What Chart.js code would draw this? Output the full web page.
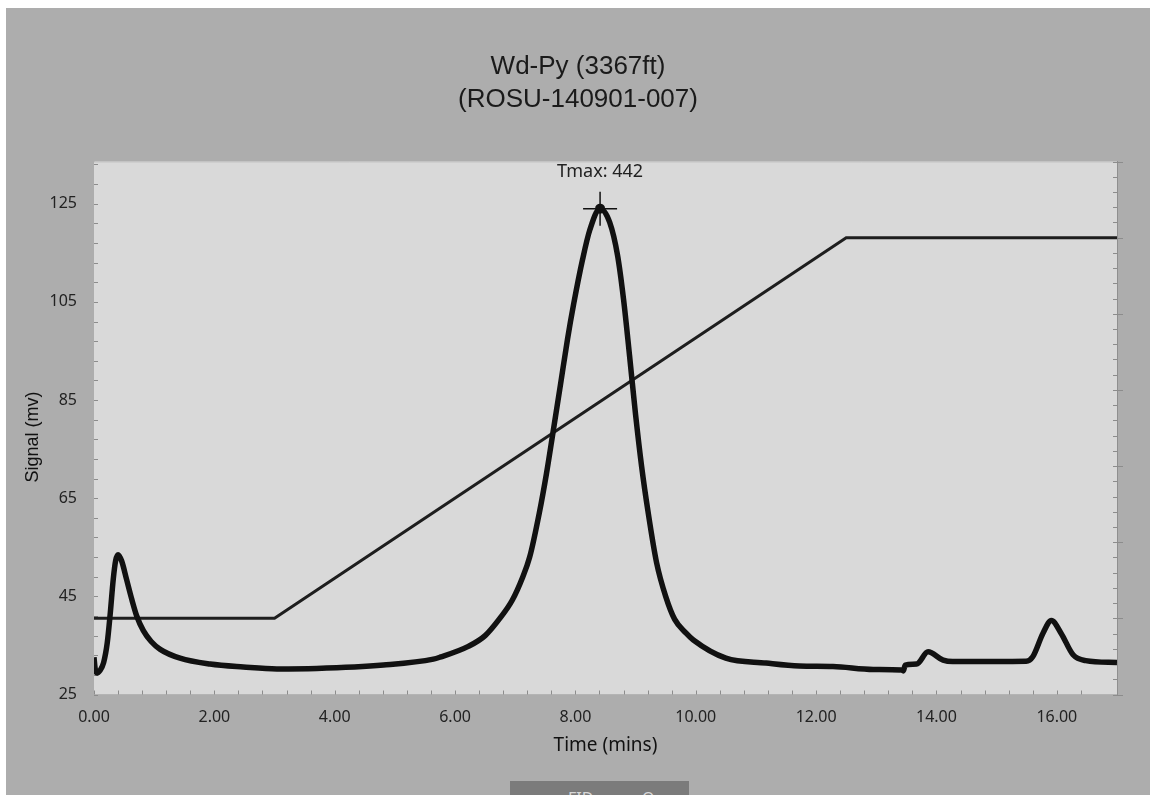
<!DOCTYPE html>
<html>
<head>
<meta charset="utf-8">
<script src="https://cdn.jsdelivr.net/npm/chart.js@4/dist/chart.umd.min.js"></script>
<style>
  html, body { margin: 0; padding: 0; background: #ffffff; overflow: hidden; }
  #frame { position: absolute; left: 6px; top: 8px; width: 1144px; height: 787px; background: #adadad; }
  #chart { position: absolute; left: 0; top: 0; }
  #tabs { position: absolute; left: 504px; top: 773px; width: 179px; height: 30px; background: #7b7b7b; overflow: hidden; }
  #tabs span { position: absolute; top: 9px; font: 16px "Noto Sans", sans-serif; line-height: 16px; color: #d8d8d8; }
</style>
</head>
<body>
<div id="frame">
  <canvas id="chart" width="1144" height="787"></canvas>
  <div id="tabs"><span style="left:58px">FID</span><span style="left:132px">Oven</span></div>
</div>
<script>
// Pyrolysis run: FID signal (mV) against time, with the oven temperature program.
const timeMin = [0.00, 0.02, 0.05, 0.10, 0.16, 0.22, 0.27, 0.32, 0.36, 0.40, 0.46, 0.54, 0.63, 0.71, 0.82, 0.95,
  1.10, 1.43, 1.93, 2.48, 3.04, 3.70, 4.81, 5.64, 5.75, 6.22, 6.50, 6.75, 6.95, 7.12, 7.24, 7.40, 7.52, 7.63,
  7.75, 7.87, 7.97, 8.12, 8.24, 8.41, 8.57, 8.70, 8.80, 8.90, 9.00, 9.10, 9.21, 9.35, 9.50, 9.65, 9.84,
  9.96, 10.50, 11.17, 11.72, 12.28, 12.95, 13.42, 13.45, 13.48, 13.67, 13.86, 14.11, 14.27, 15.49, 15.60,
  15.77, 15.91, 16.07, 16.27, 16.48, 17.00];
const signalMv = [32.6, 30.2, 29.4, 29.9, 31.5, 35.5, 41.5, 48.5, 52.3, 53.5, 52.2, 48.5, 44.3, 41.0, 38.0, 35.8,
  34.2, 32.4, 31.2, 30.6, 30.2, 30.3, 31.0, 32.2, 32.6, 34.8, 37.0, 40.6, 44.2, 48.8, 53.0, 62.0, 70.1, 78.6,
  88.0, 97.5, 104.5, 113.7, 119.7, 124.0, 121.2, 114.5, 105.5, 94.0, 82.0, 71.5, 62.0, 51.8, 45.0, 40.3, 37.5,
  36.1, 32.4, 31.4, 30.8, 30.7, 30.1, 30.0, 29.8, 31.0, 31.2, 33.7, 32.0, 31.7, 31.8, 32.7,
  37.5, 40.1, 37.5, 33.1, 31.9, 31.5];

// Oven program: isothermal hold, linear ramp, final hold
const rampTime = [0, 3, 12.5, 17];
const rampTempC = [300, 300, 550, 550];

// Tmax pick on the S2 peak
const tmaxTime = 8.41;
const tmaxSignal = 124.0;
const tmaxLabel = 'Tmax: 442';

// Axis ticks: labelled values and the minor tick spacing
const xLabelValues = [0, 2, 4, 6, 8, 10, 12, 14, 16];
const xMinorStep = 0.4;
const yLabelValues = [25, 45, 65, 85, 105, 125];
const yMinorStep = 4;
const tempMajorStep = 50;
const tempMinorStep = 10;

const titleLines = ['Wd-Py (3367ft)', '(ROSU-140901-007)'];
const xTitle = 'Time (mins)';
const yTitle = 'Signal (mv)';

const signalPoints = timeMin.map((t, i) => ({ x: t, y: signalMv[i] }));
const rampPoints = rampTime.map((t, i) => ({ x: t, y: rampTempC[i] }));

const near = (a, b) => Math.abs(a - b) < 1e-6;
const isMultiple = (v, base, step) => near((v - base) / step, Math.round((v - base) / step));

// Plot-area fill, inward tick marks on every axis, and the Tmax / y-axis captions
const frameTicks = {
  id: 'frameTicks',
  beforeDatasetsDraw(chart) {
    const { ctx, chartArea: a, scales } = chart;
    ctx.save();
    ctx.fillStyle = '#d9d9d9';
    ctx.fillRect(a.left, a.top, a.right - a.left, a.bottom - a.top);
    ctx.strokeStyle = '#c6c6c6';
    ctx.lineWidth = 1;
    ctx.beginPath();
    ctx.moveTo(a.left, a.top + 0.5); ctx.lineTo(a.right, a.top + 0.5);
    ctx.stroke();

    ctx.strokeStyle = '#8c8c8c';
    ctx.beginPath();
    scales.x.ticks.forEach(t => {
      if (!isMultiple(t.value, 0, xMinorStep)) return;
      const px = Math.round(scales.x.getPixelForValue(t.value)) + 0.5;
      ctx.moveTo(px, a.bottom); ctx.lineTo(px, a.bottom - 4);
    });
    scales.y.ticks.forEach(t => {
      const py = Math.round(scales.y.getPixelForValue(t.value)) + 0.5;
      ctx.moveTo(a.left, py); ctx.lineTo(a.left + 4, py);
    });
    scales.yTemp.ticks.forEach(t => {
      if (!isMultiple(t.value, 0, tempMinorStep)) return;
      const py = Math.round(scales.yTemp.getPixelForValue(t.value)) + 0.5;
      const outer = isMultiple(t.value, 0, tempMajorStep) ? 6 : 0;
      ctx.moveTo(a.right - 4, py); ctx.lineTo(a.right + outer, py);
    });
    ctx.stroke();
    ctx.restore();
  },
  afterDatasetsDraw(chart) {
    const { ctx, chartArea: a, scales } = chart;
    ctx.save();
    ctx.font = '18px "Noto Sans", sans-serif';
    ctx.fillStyle = '#222';
    ctx.textAlign = 'center';
    ctx.textBaseline = 'middle';
    ctx.fillText(tmaxLabel, scales.x.getPixelForValue(tmaxTime), a.top + 10);

    // vertical axis caption, read bottom to top
    ctx.font = '18px "Liberation Sans", Arial, sans-serif';
    ctx.fillStyle = '#111';
    ctx.translate(scales.y.left + 27, (a.top + a.bottom) / 2 + 9);
    ctx.rotate(-Math.PI / 2);
    ctx.fillText(yTitle, 0, 0);
    ctx.restore();
  }
};

const tickFont = { family: '"Noto Sans", sans-serif', size: 16 };
const axisBorder = { display: true, color: '#8f8f8f', width: 1 };
const noGrid = { display: true, drawOnChartArea: false, drawTicks: false };

new Chart(document.getElementById('chart'), {
  type: 'line',
  data: {
    datasets: [
      {
        label: 'Tmax cross',
        type: 'scatter',
        data: [{ x: tmaxTime, y: tmaxSignal }],
        yAxisID: 'y',
        pointStyle: 'cross',
        pointRadius: 17,
        borderColor: '#111',
        borderWidth: 1.5,
        order: 0
      },
      {
        label: 'Tmax dot',
        type: 'scatter',
        data: [{ x: tmaxTime, y: tmaxSignal }],
        yAxisID: 'y',
        pointStyle: 'circle',
        pointRadius: 5,
        backgroundColor: '#111',
        borderWidth: 0,
        order: 0
      },
      {
        label: 'Signal',
        data: signalPoints,
        yAxisID: 'y',
        borderColor: '#111111',
        borderWidth: 5.5,
        pointRadius: 0,
        cubicInterpolationMode: 'monotone',
        borderJoinStyle: 'round',
        order: 1
      },
      {
        label: 'Temperature',
        data: rampPoints,
        yAxisID: 'yTemp',
        borderColor: '#1e1e1e',
        borderWidth: 3,
        pointRadius: 0,
        tension: 0,
        order: 2
      }
    ]
  },
  options: {
    responsive: false,
    animation: false,
    layout: { padding: 0 },
    plugins: {
      legend: { display: false },
      tooltip: { enabled: false },
      title: {
        display: true,
        text: titleLines,
        color: '#1a1a1a',
        font: { family: '"Liberation Sans", Arial, sans-serif', size: 26, weight: 'normal', lineHeight: 1.27 },
        padding: { top: 42.5, bottom: 45 }
      }
    },
    scales: {
      x: {
        type: 'linear',
        position: 'bottom',
        min: 0,
        max: 17,
        grid: noGrid,
        border: axisBorder,
        ticks: {
          stepSize: xMinorStep,
          autoSkip: false,
          maxRotation: 0,
          padding: 13,
          color: '#222',
          font: tickFont,
          callback: v => xLabelValues.some(l => near(l, v)) ? v.toFixed(2) : ''
        },
        title: {
          display: true,
          text: xTitle,
          color: '#111',
          font: { family: '"Noto Sans", sans-serif', size: 19 },
          padding: { top: 0, bottom: 38 }
        },
        afterFit: s => { s.height = 100.5; }
      },
      y: {
        type: 'linear',
        position: 'left',
        min: 25,
        max: 133.6,
        grid: noGrid,
        border: axisBorder,
        afterBuildTicks: s => {
          const ticks = [];
          for (let v = yLabelValues[0]; v <= s.max; v += yMinorStep) ticks.push({ value: v });
          s.ticks = ticks;
        },
        ticks: {
          autoSkip: false,
          padding: 17,
          color: '#222',
          font: tickFont,
          callback: v => yLabelValues.some(l => near(l, v)) ? String(v) : ''
        },
        afterFit: s => { s.width = 88; }
      },
      yTemp: {
        type: 'linear',
        position: 'right',
        min: 250,
        max: 600,
        grid: noGrid,
        border: axisBorder,
        ticks: { display: false, stepSize: tempMinorStep, autoSkip: false },
        afterFit: s => { s.width = 33; }
      }
    }
  },
  plugins: [frameTicks]
});
</script>
</body>
</html>
